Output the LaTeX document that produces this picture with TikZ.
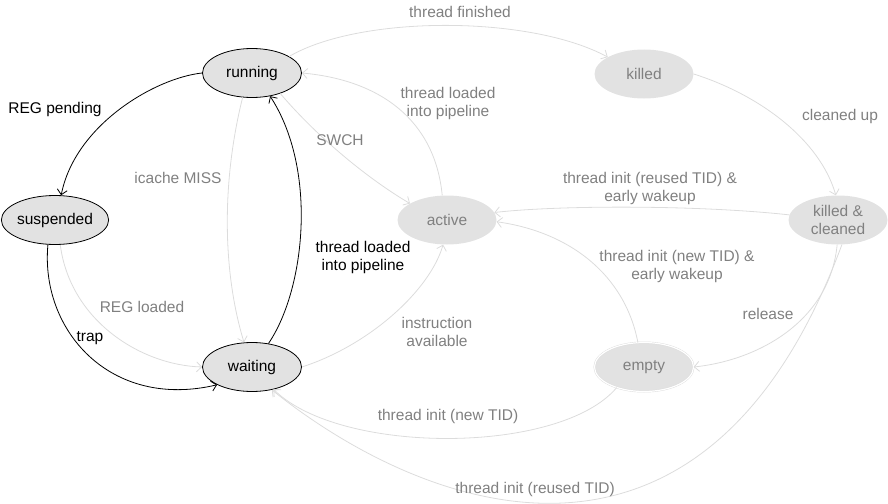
\documentclass[tikz,border=0pt]{standalone}
\usepackage{fontspec}
\setmainfont{Liberation Sans}
\usetikzlibrary{shapes.geometric,arrows.meta}
\definecolor{nfill}{HTML}{E2E2E2}
\definecolor{lline}{HTML}{DCDCDC}
\definecolor{ltext}{HTML}{808080}
\begin{document}
\begin{tikzpicture}[x=1pt,y=-1pt,
 every node/.style={font=\fontsize{15.5}{18}\selectfont},
 state/.style={ellipse, minimum width=99pt, minimum height=49pt, inner sep=0pt, align=center, fill=nfill},
 darkstate/.style={state, draw=black, line width=0.8pt},
 lightstate/.style={state, text=ltext},
 darkedge/.style={draw=black, line width=0.8pt, -{Straight Barb[length=5pt,width=10pt]}},
 lightedge/.style={draw=lline, line width=0.8pt, -{Straight Barb[length=5pt,width=10pt]}},
 darklabel/.style={text=black, align=center},
 lightlabel/.style={text=ltext, align=center}]
\useasboundingbox (0,0) rectangle (888,503);

\node[darkstate] (running) at (252,73) {running};
\node[darkstate] (suspended) at (55,220) {suspended};
\node[darkstate] (waiting) at (252,367) {waiting};
\node[lightstate] (active) at (447,220) {active};
\node[lightstate] (killed) at (644,74) {killed};
\node[lightstate] (kc) at (838,220) {killed \&\\cleaned};
\node[lightstate, draw=lline, double=white, double distance=1.2pt] (empty) at (644,367) {empty};

% dark edges
\draw[darkedge] (running.180) .. controls (155,78) and (75,125) .. (suspended.76);
\draw[darkedge] (suspended.254) .. controls (40,330) and (110,410) .. (waiting.207);
\draw[darkedge] (waiting.55) .. controls (305,290) and (318,170) .. (running.308);

% light edges
\draw[lightedge] (suspended.282) .. controls (70,320) and (140,365) .. (waiting.180);
\draw[lightedge] (running.249) .. controls (222,180) and (222,270) .. (waiting.108);
\draw[lightedge] (waiting.0) .. controls (370,345) and (430,290) .. (active.261);
\draw[lightedge] (running.-36) .. controls (320,140) and (370,180) .. (active.156);
\draw[lightedge] (active.101) .. controls (435,120) and (380,80) .. (running.0);
\draw[lightedge] (running.24) .. controls (360,15) and (530,15) .. (killed.155);
\draw[lightedge] (killed.0) .. controls (760,95) and (820,140) .. (kc.95);
\draw[lightedge] (kc.174) .. controls (700,205) and (560,205) .. (active.9);
\draw[lightedge] (empty.104) .. controls (625,275) and (570,232) .. (active.-2);
\draw[lightedge] (kc.268) .. controls (830,320) and (760,360) .. (empty.0);
\draw[lightedge] (empty.217) .. controls (560,455) and (340,455) .. (waiting.314);
\draw[lightedge] (kc.279) .. controls (702,622) and (419,508) .. (waiting.311);

% labels
\node[darklabel] (lregp) at (55,109) {REG pending};
\node[darklabel] (ltrap) at (90,338) {trap};
\node[darklabel] (ltlp1) at (363,257) {thread loaded\\into pipeline};
\node[lightlabel] (lregl) at (142,307) {REG loaded};
\node[lightlabel] (licache) at (178,178) {icache MISS};
\node[lightlabel] (linstr) at (437,332) {instruction\\available};
\node[lightlabel] (lswch) at (340,140) {SWCH};
\node[lightlabel] (ltlp2) at (448,103) {thread loaded\\into pipeline};
\node[lightlabel] (lfin) at (460,12) {thread finished};
\node[lightlabel] (lclean) at (840,116) {cleaned up};
\node[lightlabel] (lreuse) at (650,188) {thread init (reused TID) \&\\early wakeup};
\node[lightlabel] (lnew) at (677,266) {thread init (new TID) \&\\early wakeup};
\node[lightlabel] (lrel) at (768,314) {release};
\node[lightlabel] (lnew2) at (448,416) {thread init (new TID)};
\node[lightlabel] (lreuse2) at (535,489) {thread init (reused TID)};
\end{tikzpicture}
\end{document}
